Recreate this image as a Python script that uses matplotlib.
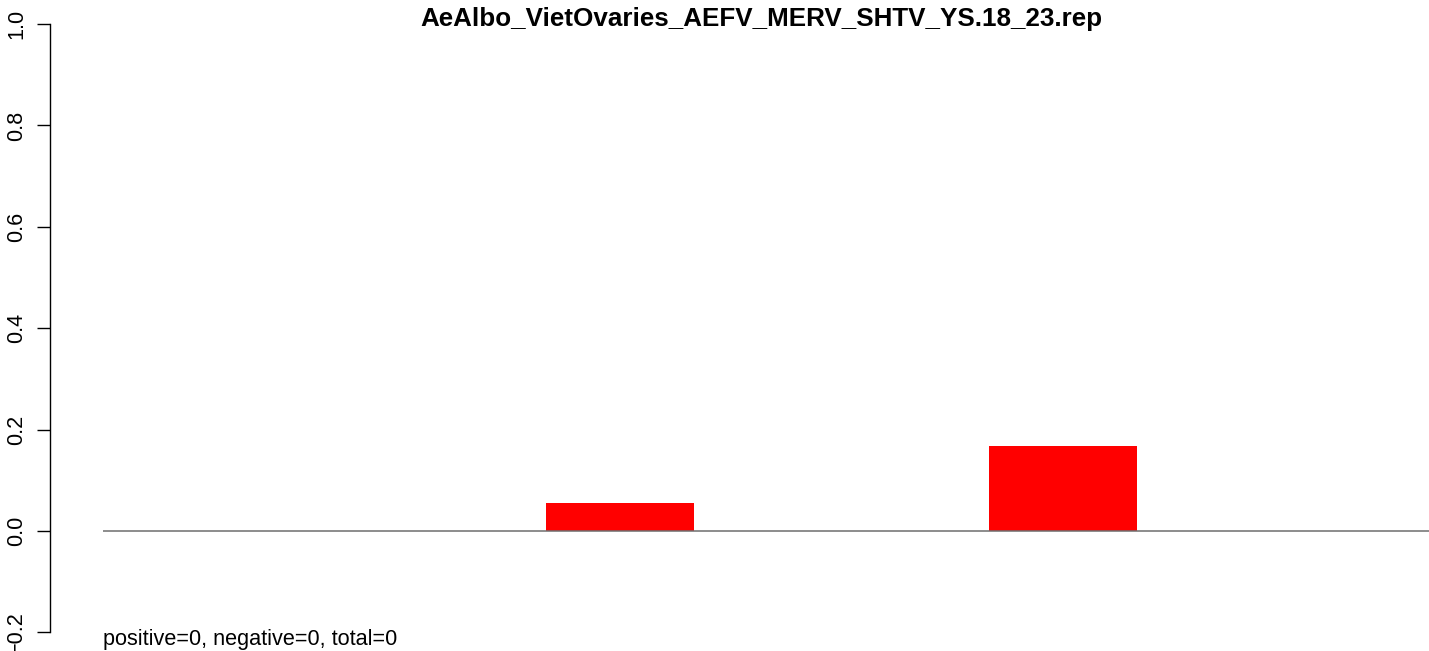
import numpy as np
import matplotlib as mpl
mpl.use('Agg')
import matplotlib.pyplot as plt

#
#--- data
#
groups    = ['g1', 'g2', 'g3']
fractions = [0.0, 0.055, 0.167]
y_ticks   = [-0.2, 0.0, 0.2, 0.4, 0.6, 0.8, 1.0]
title     = 'AeAlbo_VietOvaries_AEFV_MERV_SHTV_YS.18_23.rep'
note      = 'positive=0, negative=0, total=0'

W, H = 1429, 651
mpl.rcParams['font.family'] = ['Liberation Sans', 'DejaVu Sans']
base = 15.6

fig = plt.figure(figsize=(W / 100, H / 100), dpi=100)
ax = fig.add_axes([103 / W, 18.7 / H, 1326 / W, (632.3 - 24) / H])
#
#--- bars (barplot style: width 1, space 2)
#
xpos = np.arange(len(groups)) * 3
ax.bar(xpos, fractions, width=1.0, align='edge', color='#ff0000', linewidth=0)
ax.axhline(0, color='#6e6e6e', lw=1.1, zorder=3)

ax.set_xlim(0, 8.98)
ax.set_ylim(-0.2, 1.0)
#
#--- axis style
#
for s in ['top', 'right', 'bottom']:
    ax.spines[s].set_visible(False)
ax.spines['left'].set_position(('outward', 53 * 0.72))
ax.spines['left'].set_bounds(-0.2, 1.0)
ax.spines['left'].set_linewidth(1.0)
ax.set_xticks([])
ax.set_yticks(y_ticks)
ax.set_yticklabels([f"{v:.1f}".replace('-', '\u2212') for v in y_ticks],
                   rotation=90, va='center', fontsize=base)
ax.tick_params(axis='y', length=9.6, width=1.0, pad=7)
#
#--- texts
#
fig.text(761 / W, (H - 26) / H, title, ha='center', va='baseline',
         fontsize=base * 1.2, fontweight='bold')
fig.text(103 / W, (H - 645) / H, note, ha='left', va='baseline', fontsize=base)

plt.savefig('out.png', dpi=100)
plt.close('all')
